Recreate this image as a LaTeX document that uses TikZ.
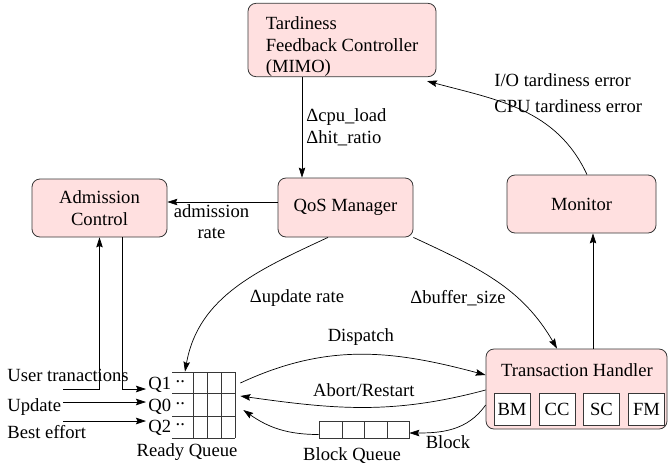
\documentclass[tikz,border=0pt]{standalone}
\usepackage{fontspec}
\setmainfont{Liberation Serif}
\usetikzlibrary{arrows.meta}
\definecolor{boxpink}{RGB}{255,224,224}
\definecolor{boxline}{RGB}{55,55,55}

\begin{document}
\begin{tikzpicture}[x=1pt,y=-1pt,
  font=\fontsize{18.6}{21.7}\selectfont,
  >={Stealth[length=10pt,width=6.5pt,inset=1.5pt]},
  line width=0.7pt,
  every node/.style={inner sep=2pt},
  block/.style={draw=boxline,fill=boxpink,rounded corners=8pt,line width=0.8pt,align=center,inner sep=0pt},
  unit/.style={draw=boxline,fill=white,line width=0.8pt,minimum width=36pt,minimum height=32pt,inner sep=0pt}]
\useasboundingbox (0,0) rectangle (668,472);

% boxes
\node[block,minimum width=188pt,minimum height=72pt,align=left] (tfc) at (342,40) {\rule{0pt}{26pt}Tardiness\\Feedback Controller\\(MIMO)};
\node[block,minimum width=135pt,minimum height=59pt] (qos) at (345.5,207.5) {QoS Manager};
\node[block,minimum width=135pt,minimum height=58pt] (adm) at (99.5,208) {Admission\\Control};
\node[block,minimum width=149pt,minimum height=58pt] (mon) at (581.5,204) {Monitor};
\node[block,minimum width=181pt,minimum height=80pt] (th) at (576.5,389) {};
\node (thtitle) at (577,370) {Transaction Handler};
\node[unit] (bm) at (512,409) {BM};
\node[unit] (cc) at (557,409) {CC};
\node[unit] (sc) at (601.5,409) {SC};
\node[unit] (fm) at (646.5,409) {FM};

% ready queue
\node[minimum width=63pt,minimum height=66pt,inner sep=0pt] (rq) at (203.5,405) {};
\foreach \y in {372,393,416,438} \draw[boxline] (172,\y) -- (235,\y); % rows
\foreach \x in {193,207,221,235} \draw[boxline] (\x,372) -- (\x,438); % cells
\node[anchor=west] (q1) at (146,385) {Q1 \raisebox{7pt}{..}};
\node[anchor=west] (q0) at (146,407) {Q0 \raisebox{7pt}{..}};
\node[anchor=west] (q2) at (146,428) {Q2 \raisebox{7pt}{..}};
\node (rqlbl) at (187,452) {Ready Queue};

% block queue
\node[draw=boxline,minimum width=90pt,minimum height=17pt,inner sep=0pt] (bq) at (364,429.5) {};
\foreach \x in {342,364,387} \draw[boxline] (\x,421) -- (\x,438);
\node (bqlbl) at (352,456) {Block Queue};

% inputs
\node[anchor=west] (utlbl) at (5,375) {User tranactions};
\node[anchor=west] (updlbl) at (5,407) {Update};
\node[anchor=west] (belbl) at (5,432) {Best effort};
\coordinate (utin) at (63,389);
\coordinate (updin) at (63,402);
\coordinate (bein) at (63,421);
\draw[->] (utin) -| (adm.south);
\draw[->] ([xshift=22.5pt]adm.south) |- (q1.west |- utin);
\draw[->] (updin) -- (updin -| q0.west);
\draw[->] (bein) -- (bein -| q2.west);

% control loop
\draw[->] ([xshift=-40pt]tfc.south) -- ([xshift=-40pt]tfc.south |- qos.north)
  node[midway,right,align=left,xshift=2pt] {Δcpu\_load\\Δhit\_ratio};
\draw[->] ([yshift=5.5pt]qos.west) -- ([yshift=5.5pt]qos.west -| adm.east)
  node[pos=0.6,below,align=center] {admission\\rate};
\draw[->] ([xshift=-17.5pt]qos.south) to[out=205,in=80] ([xshift=-18.5pt]rq.north);
\node (uplbl) at (297,298) {Δupdate rate};
\draw[->] (qos.south east) to[out=-25,in=120] ([xshift=-19.5pt]th.north);
\node (buflbl) at (458,298) {Δbuffer\_size};
\draw[->] ([xshift=16.5pt]th.north) -- ([xshift=16.5pt]th.north |- mon.south);
\draw[->] ([xshift=5.5pt]mon.north) to[out=115,in=-15] ([xshift=85pt,yshift=-4pt]tfc.south);
\node[anchor=west,align=left] (errlbl) at (492,93) {I/O tardiness error\\[4pt]CPU tardiness error};

% transaction flow
\draw[->] ([xshift=5pt,yshift=22pt]rq.east) to[out=25,in=165] node[above,yshift=7pt] {Dispatch} ([yshift=14pt]th.west);
\draw[->] ([yshift=-1pt]th.west) to[out=195,in=-8] node[above,yshift=8pt] {Abort/Restart} ([xshift=5pt,yshift=9pt]rq.east);
\draw[->] ([yshift=-16pt]th.west) to[out=235,in=0] ([yshift=-3.5pt]bq.east);
\node (blklbl) at (448,442) {Block};
\draw[->] ([yshift=-5pt]bq.west) to[out=180,in=-35] ([xshift=8pt,yshift=-5pt]rq.east);
\end{tikzpicture}
\end{document}
